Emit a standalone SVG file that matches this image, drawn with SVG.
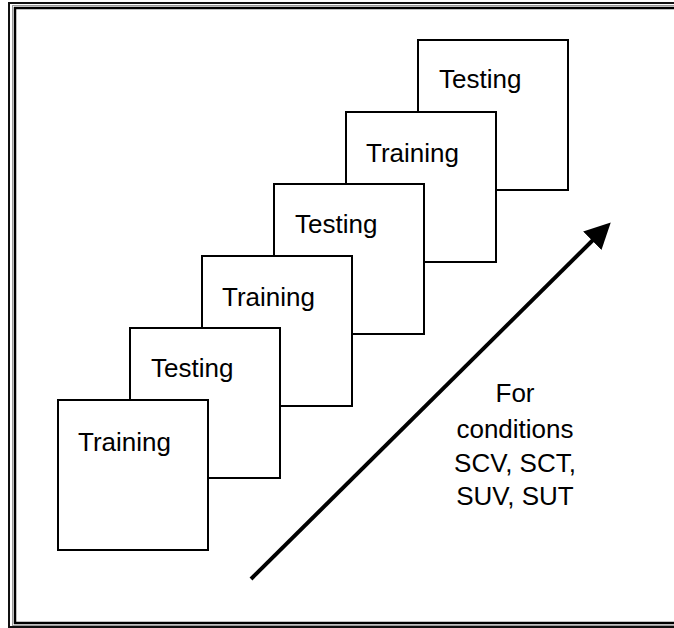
<svg xmlns="http://www.w3.org/2000/svg" width="674" height="628" viewBox="0 0 674 628">
  <style>
    .box rect { fill: #fff; stroke: #000; stroke-width: 2; }
    .lbl { font-family: "Liberation Sans", Arial, sans-serif; font-size: 26px; fill: #000; }
    .note { font-family: "Liberation Sans", Arial, sans-serif; font-size: 26px; fill: #000; text-anchor: middle; }
  </style>
  <defs>
    <marker id="head" markerUnits="userSpaceOnUse" markerWidth="28" markerHeight="28" refX="1" refY="13" orient="auto">
      <path d="M0,0 L26,13 L0,26 z" fill="#000"/>
    </marker>
  </defs>
  <rect width="674" height="628" fill="#fff"/>
  <g id="frame" fill="none">
    <rect x="9" y="3" width="690" height="624" stroke="#111" stroke-width="2"/>
    <rect x="12.5" y="5.5" width="690" height="620" stroke="#999" stroke-width="1"/>
    <rect x="15" y="8" width="690" height="615" stroke="#000" stroke-width="2.5"/>
  </g>
  <g id="testing3" class="box">
    <rect x="418" y="40" width="150" height="150"/>
    <text class="lbl" x="439" y="88">Testing</text>
  </g>
  <g id="training3" class="box">
    <rect x="346" y="112" width="150" height="150"/>
    <text class="lbl" x="366" y="162">Training</text>
  </g>
  <g id="testing2" class="box">
    <rect x="274" y="184" width="150" height="150"/>
    <text class="lbl" x="295" y="233">Testing</text>
  </g>
  <g id="training2" class="box">
    <rect x="202" y="256" width="150" height="150"/>
    <text class="lbl" x="222" y="306">Training</text>
  </g>
  <g id="testing1" class="box">
    <rect x="130" y="328" width="150" height="150"/>
    <text class="lbl" x="151" y="377">Testing</text>
  </g>
  <g id="training1" class="box">
    <rect x="58" y="400" width="150" height="150"/>
    <text class="lbl" x="78" y="451">Training</text>
  </g>
  <g id="connectors">
    <line x1="251" y1="579" x2="593" y2="240" stroke="#000" stroke-width="4" marker-end="url(#head)"/>
  </g>
  <g id="note">
    <text class="note" x="515" y="402">For</text>
    <text class="note" x="515" y="438">conditions</text>
    <text class="note" x="515" y="472">SCV, SCT,</text>
    <text class="note" x="515" y="505">SUV, SUT</text>
  </g>
</svg>
